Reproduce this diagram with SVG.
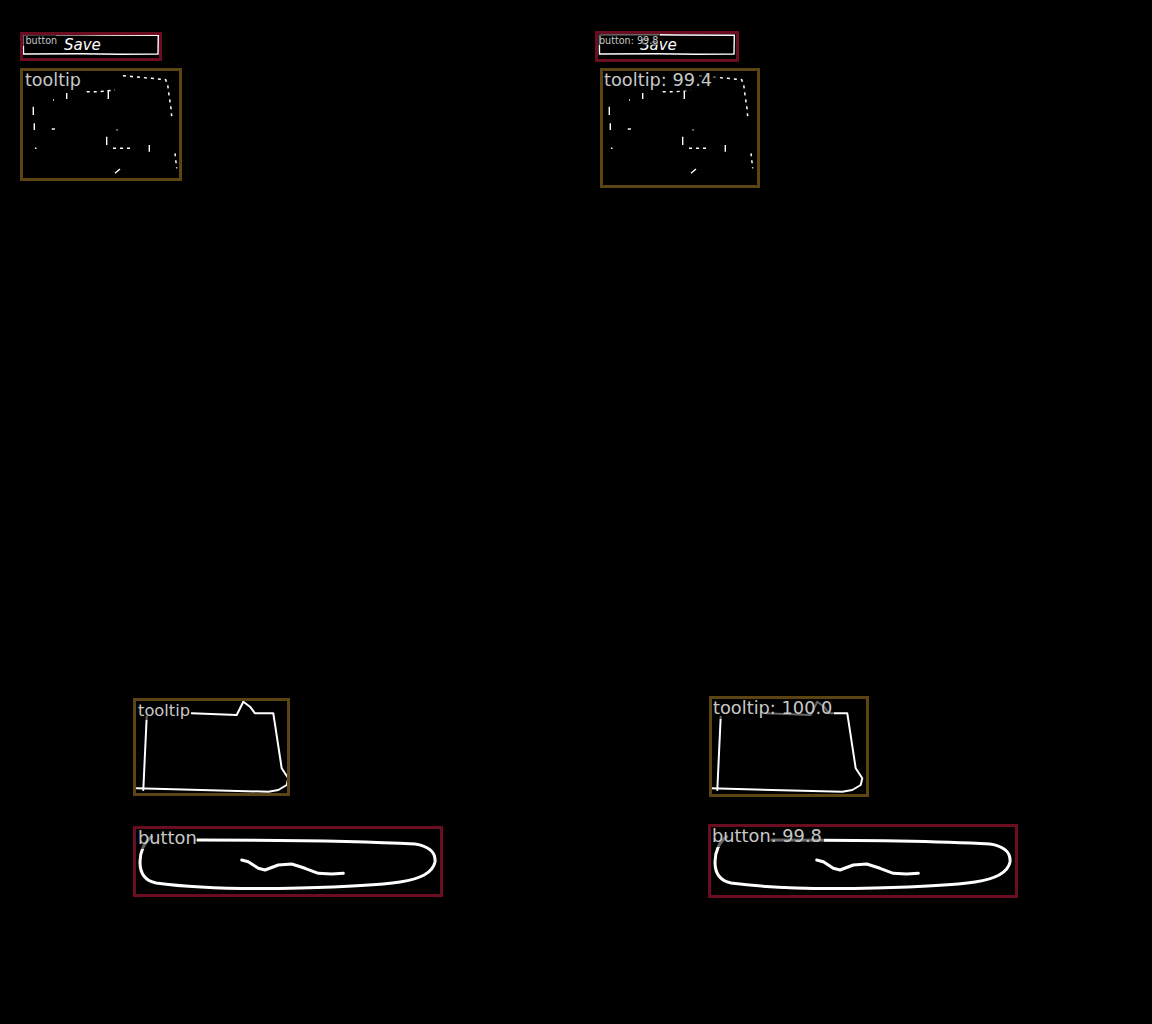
<svg xmlns="http://www.w3.org/2000/svg" width="1152" height="1024" viewBox="0 0 1152 1024">
<defs>
<style>
.bg{fill:#000}
.tt{fill:none;stroke:#5c4512;stroke-width:3}
.bt{fill:none;stroke:#6b0d20;stroke-width:3}
.sk{fill:none;stroke:#fff;stroke-width:2;stroke-linejoin:round;stroke-linecap:round}
.skb{fill:none;stroke:#fff;stroke-width:3;stroke-linejoin:round;stroke-linecap:round}
.dot{fill:none;stroke:#fff;stroke-width:1.5;stroke-dasharray:3 4}
.thin{fill:none;stroke:#fff;stroke-width:1.4}
.lb{fill:#c8c8c8;font-family:"DejaVu Sans",sans-serif;font-size:17.8px}
.lbs{fill:#c8c8c8;font-family:"DejaVu Sans",sans-serif;font-size:9.6px}
.lbg{fill:#000;fill-opacity:0.6}
.hand{fill:#fff;font-family:"DejaVu Sans",sans-serif;font-size:15px;font-style:italic;font-weight:300}
</style>
<g id="tipSketch">
<polyline class="dot" points="123,75.7 136.7,77 151.7,78.3 165.7,79.7 167.7,85 169,95 171,108.3 171.7,116.7"/>
<polyline class="dot" points="86.7,91.7 98.3,91.7 115,90"/>
<line class="thin" x1="108.3" y1="90" x2="108.3" y2="99"/>
<line class="thin" x1="66.7" y1="93" x2="66.7" y2="99"/>
<line class="thin" x1="53" y1="100" x2="54" y2="100"/>
<line class="thin" x1="33.3" y1="106.7" x2="33.3" y2="115"/>
<line class="thin" x1="34.3" y1="123.3" x2="34.3" y2="130"/>
<line class="thin" x1="35.7" y1="147.5" x2="35.7" y2="149"/>
<line class="thin" x1="51.7" y1="129" x2="55" y2="129"/>
<line class="thin" x1="116.5" y1="130" x2="117.5" y2="130"/>
<line class="thin" x1="106.7" y1="136.7" x2="106.7" y2="145"/>
<polyline class="dot" points="113,148.3 133.3,148.3"/>
<line class="thin" x1="149.3" y1="145" x2="149.3" y2="151.7"/>
<polyline class="dot" points="175,153.3 176.7,168.3"/>
<line class="thin" x1="115" y1="173.3" x2="120" y2="169"/>
</g>
<g id="btnSketch">
<polyline class="thin" points="23.3,35 60,34.5 100,35 158.3,35.3 158,54 120,54.3 80,53.8 23.5,54 23.3,35"/>
<text class="hand" x="64" y="50">Save</text>
</g>
<g id="tipBig">
<polyline class="sk" points="136.7,788.3 268.3,791.7 278.3,790 286.7,785 288.3,778.3 281.7,768.3 273.3,713.3 255,713.3 250,706.7 243.3,701.7 236.7,715 191.7,713.3"/>
<line class="sk" x1="146.7" y1="716.7" x2="143.3" y2="790"/>
</g>
<g id="btnBig">
<path class="skb" d="M151.7,836.7 C144,842 140,852 140,862 C140,874 146,881 156,883 C200,889 260,889 300,888 C340,887 380,885 400,882 C420,879 433,872 435,862 C436,852 428,846 415,844 C360,841 260,840 196.7,840"/>
<polyline class="skb" points="241.7,860 248.3,861.7 258.3,868.3 265,870 278.3,865 291.7,864 305,868.3 318.3,873.3 331.7,874 343.3,873.3"/>
</g>
</defs>
<rect class="bg" x="0" y="0" width="1152" height="1024"/>

<g id="tl-button">
<use href="#btnSketch"/>
<rect class="bt" x="21.5" y="33.5" width="139" height="26"/>
<rect class="lbg" x="23" y="35" width="33" height="11"/>
<text class="lbs" x="25.5" y="44">button</text>
</g>
<g id="tl-tooltip">
<use href="#tipSketch"/>
<rect class="tt" x="21.5" y="69.5" width="159" height="110"/>
<rect class="lbg" x="23" y="71" width="60" height="20"/>
<text class="lb" x="25" y="86" style="font-size:17.5px">tooltip</text>
</g>

<g id="tr-button">
<use href="#btnSketch" transform="translate(576,0)"/>
<rect class="bt" x="596.5" y="32.5" width="141" height="28"/>
<rect class="lbg" x="598" y="34" width="62" height="11"/>
<text class="lbs" x="599" y="43.5">button: 99.8</text>
</g>
<g id="tr-tooltip">
<use href="#tipSketch" transform="translate(576,0)"/>
<rect class="tt" x="601.5" y="69.5" width="157" height="117"/>
<rect class="lbg" x="603" y="71" width="113" height="20"/>
<text class="lb" x="604" y="86">tooltip: 99.4</text>
</g>

<g id="bl-tooltip">
<use href="#tipBig"/>
<rect class="tt" x="134.5" y="699.5" width="154" height="95"/>
<rect class="lbg" x="136" y="701" width="55" height="19"/>
<text class="lb" x="138" y="716" style="font-size:16.3px">tooltip</text>
</g>
<g id="bl-button">
<use href="#btnBig"/>
<rect class="bt" x="134.5" y="827.5" width="307" height="68"/>
<rect class="lbg" x="136" y="829" width="61" height="20"/>
<text class="lb" x="138" y="844">button</text>
</g>

<g id="br-tooltip">
<use href="#tipBig" transform="translate(574,0)"/>
<rect class="tt" x="710.5" y="697.5" width="157" height="98"/>
<rect class="lbg" x="712" y="699" width="122" height="20"/>
<text class="lb" x="713" y="714">tooltip: 100.0</text>
</g>
<g id="br-button">
<use href="#btnBig" transform="translate(575,0)"/>
<rect class="bt" x="709.5" y="825.5" width="307" height="71"/>
<rect class="lbg" x="711" y="827" width="113" height="20"/>
<text class="lb" x="712" y="842">button: 99.8</text>
</g>
</svg>
